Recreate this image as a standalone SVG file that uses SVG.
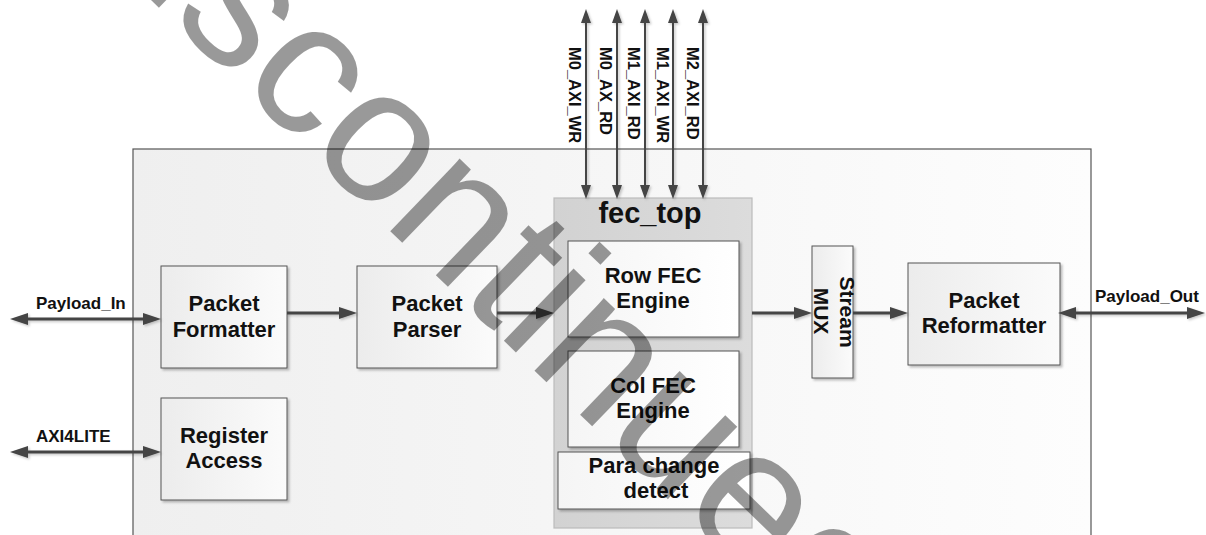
<svg xmlns="http://www.w3.org/2000/svg" width="1206" height="535" viewBox="0 0 1206 535">
<style>
.t{font-family:"Liberation Sans",Arial,sans-serif;font-weight:bold;fill:#111;}
.b{font-size:22px;text-anchor:middle;}
.lbl{font-size:17px;}
.v{font-size:16.5px;}
.box{fill:url(#gbox);stroke:#555;stroke-width:1;filter:url(#sh);}
.wbox{fill:url(#gwhite);stroke:#555;stroke-width:1;filter:url(#sh);}
.h{stroke:#444;stroke-width:3;fill:none;}
.vl{stroke:#444;stroke-width:2;fill:none;}
</style>
<defs>
<linearGradient id="gbox" x1="0" y1="0" x2="1" y2="0"><stop offset="0" stop-color="#ececec"/><stop offset="1" stop-color="#fbfbfb"/></linearGradient>
<linearGradient id="gwhite" x1="0" y1="0" x2="1" y2="0"><stop offset="0" stop-color="#f5f5f5"/><stop offset="1" stop-color="#ffffff"/></linearGradient>
<linearGradient id="gouter" x1="0" y1="0" x2="1" y2="0"><stop offset="0" stop-color="#efefef"/><stop offset="1" stop-color="#fdfdfd"/></linearGradient>
<linearGradient id="gfec" x1="0" y1="0" x2="1" y2="0"><stop offset="0" stop-color="#d2d2d2"/><stop offset="1" stop-color="#dcdcdc"/></linearGradient>
<filter id="sh" x="-10%" y="-10%" width="130%" height="130%"><feDropShadow dx="2" dy="2" stdDeviation="1.2" flood-color="#000" flood-opacity="0.25"/></filter>
<filter id="lsh" x="-5%" y="-50%" width="110%" height="200%"><feDropShadow dx="1.5" dy="1.5" stdDeviation="1" flood-color="#000" flood-opacity="0.22"/></filter>
<marker id="ah" markerUnits="userSpaceOnUse" markerWidth="18" markerHeight="12" refX="12" refY="6" orient="auto-start-reverse"><path d="M0,0 L18,6 L0,12 z" fill="#444"/></marker>
<marker id="av" markerUnits="userSpaceOnUse" markerWidth="14" markerHeight="10" refX="9" refY="5" orient="auto-start-reverse"><path d="M0,0 L14,5 L0,10 z" fill="#444"/></marker>
</defs>
<rect x="0" y="0" width="1206" height="535" fill="#ffffff"/>
<g id="system">
<rect x="133" y="149" width="958" height="400" fill="url(#gouter)" stroke="#555" stroke-width="1.2"/>
</g>
<g id="packet_formatter">
<rect class="box" x="161" y="266" width="126" height="102"/>
<text class="t b" x="224" y="311">Packet</text>
<text class="t b" x="224" y="337">Formatter</text>
</g>
<g id="register_access">
<rect class="box" x="161" y="398" width="126" height="102"/>
<text class="t b" x="224" y="443">Register</text>
<text class="t b" x="224" y="468">Access</text>
</g>
<g id="packet_parser">
<rect class="box" x="357" y="266" width="140" height="102"/>
<text class="t b" x="427" y="311">Packet</text>
<text class="t b" x="427" y="337">Parser</text>
</g>
<g id="fec_top">
<rect x="554" y="198" width="198" height="330" fill="url(#gfec)" stroke="#bbbbbb" stroke-width="1.2"/>
<text class="t" x="650" y="223" font-size="29" text-anchor="middle">fec_top</text>
</g>
<g id="row_fec_engine">
<rect class="wbox" x="568" y="241" width="171" height="96"/>
<text class="t b" x="653" y="283">Row FEC</text>
<text class="t b" x="653" y="308">Engine</text>
</g>
<g id="col_fec_engine">
<rect class="wbox" x="568" y="351" width="171" height="96"/>
<text class="t b" x="653" y="393">Col FEC</text>
<text class="t b" x="653" y="418">Engine</text>
</g>
<g id="para_change_detect">
<rect class="wbox" x="558" y="452" width="192" height="57"/>
<text class="t b" x="654" y="473">Para change</text>
<text class="t b" x="656" y="498">detect</text>
</g>
<g id="stream_mux">
<rect class="box" x="812" y="246" width="41" height="132"/>
<text class="t" font-size="21" text-anchor="middle" transform="translate(840,312) rotate(90)">Stream</text>
<text class="t" font-size="21" text-anchor="middle" transform="translate(814,311) rotate(90)">MUX</text>
</g>
<g id="packet_reformatter">
<rect class="box" x="908" y="263" width="152" height="102"/>
<text class="t b" x="984" y="308">Packet</text>
<text class="t b" x="984" y="333">Reformatter</text>
</g>
<g id="connectors" filter="url(#lsh)">
<line class="h" x1="16" y1="319" x2="155" y2="319" marker-start="url(#ah)" marker-end="url(#ah)"/>
<line class="h" x1="16" y1="452" x2="155" y2="452" marker-start="url(#ah)" marker-end="url(#ah)"/>
<line class="h" x1="287" y1="313" x2="351" y2="313" marker-end="url(#ah)"/>
<line class="h" x1="497" y1="313" x2="548" y2="313" marker-end="url(#ah)"/>
<line class="h" x1="752" y1="313" x2="806" y2="313" marker-end="url(#ah)"/>
<line class="h" x1="853" y1="313" x2="902" y2="313" marker-end="url(#ah)"/>
<line class="h" x1="1064" y1="313" x2="1199" y2="313" marker-start="url(#ah)" marker-end="url(#ah)"/>
<line class="vl" x1="586" y1="14" x2="586" y2="194" marker-start="url(#av)" marker-end="url(#av)"/>
<line class="vl" x1="617" y1="14" x2="617" y2="194" marker-start="url(#av)" marker-end="url(#av)"/>
<line class="vl" x1="645" y1="14" x2="645" y2="194" marker-start="url(#av)" marker-end="url(#av)"/>
<line class="vl" x1="673" y1="14" x2="673" y2="194" marker-start="url(#av)" marker-end="url(#av)"/>
<line class="vl" x1="703" y1="14" x2="703" y2="194" marker-start="url(#av)" marker-end="url(#av)"/>
</g>
<g id="connector_labels">
<text class="t lbl" x="36" y="309">Payload_In</text>
<text class="t lbl" x="36" y="442">AXI4LITE</text>
<text class="t lbl" x="1095" y="302">Payload_Out</text>
<text class="t v" transform="translate(569,47) rotate(90)">M0_AXI_WR</text>
<text class="t v" transform="translate(600,47) rotate(90)">M0_AX_RD</text>
<text class="t v" transform="translate(628,47) rotate(90)">M1_AXI_RD</text>
<text class="t v" transform="translate(657,47) rotate(90)">M1_AXI_WR</text>
<text class="t v" transform="translate(687,47) rotate(90)">M2_AXI_RD</text>
</g>
<g id="watermark">
<text x="0" y="0" transform="translate(39,-108) rotate(44)" font-family="'Liberation Sans',Arial,sans-serif" font-size="190" fill="#000" fill-opacity="0.4">Discontinued</text>
</g>
</svg>
